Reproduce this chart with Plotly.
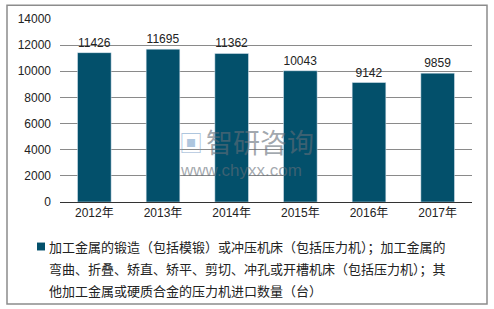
import plotly.graph_objects as go

years = ["2012年", "2013年", "2014年", "2015年", "2016年", "2017年"]
values = [11426, 11695, 11362, 10043, 9142, 9859]
y_ticks = [0, 2000, 4000, 6000, 8000, 10000, 12000, 14000]
legend_lines = ["加工金属的锻造（包括模锻）或冲压机床（包括压力机）；加工金属的",
                "弯曲、折叠、矫直、矫平、剪切、冲孔或开槽机床（包括压力机）；其",
                "他加工金属或硬质合金的压力机进口数量（台）"]

W, H = 494, 309
L, R, T, B = 60, 22, 17, 107
pw, ph = W - L - R, H - T - B

def px(x):
    return (x - L) / pw

def py(y):
    return (H - B - y) / ph

FONT = "Liberation Sans, Arial, Noto Sans CJK SC, sans-serif"
BAR = "#03506b"

fig = go.Figure()
fig.add_trace(go.Bar(
    x=years, y=values, marker_color=BAR, width=0.49,
    text=[str(v) for v in values], textposition="outside",
    textfont=dict(size=12, color="#222", family=FONT),
    cliponaxis=False, showlegend=False,
))

fig.update_layout(
    width=W, height=H,
    margin=dict(l=L, r=R, t=T, b=B),
    paper_bgcolor="white", plot_bgcolor="white",
    font=dict(family=FONT, size=12, color="#222"),
    bargap=0.51,
    xaxis=dict(showgrid=False, showline=True, linecolor="#333", linewidth=1,
               ticks="", tickfont=dict(size=12, color="#222")),
    yaxis=dict(range=[0, 14000], tickvals=y_ticks,
               ticktext=[str(v) for v in y_ticks], showgrid=True,
               gridcolor="#8a8a8a", gridwidth=1, zeroline=False,
               showline=False, ticks="", tickfont=dict(size=12, color="#222"),
               ticklabelstandoff=8),
)

# outer border
fig.add_shape(type="rect", xref="paper", yref="paper",
              x0=px(7), x1=px(487), y0=py(305), y1=py(3),
              line=dict(color="#8c8c8c", width=1.5), fillcolor="rgba(0,0,0,0)")

# legend marker
fig.add_shape(type="rect", xref="paper", yref="paper",
              x0=px(37), x1=px(45), y0=py(251), y1=py(243),
              line=dict(width=0), fillcolor=BAR)
for i, line in enumerate(legend_lines):
    fig.add_annotation(xref="paper", yref="paper", x=px(47), y=py(247 + 22 * i),
                       xanchor="left", yanchor="middle", align="left",
                       text=line, showarrow=False,
                       font=dict(size=13, color="#222",
                                 family="Noto Sans CJK SC, sans-serif"))

# watermark
fig.add_annotation(xref="paper", yref="paper", x=px(177), y=py(143),
                   xanchor="left", yanchor="middle", text="▣", showarrow=False,
                   font=dict(size=24, color="rgba(120,160,200,0.6)"))
fig.add_annotation(xref="paper", yref="paper", x=px(204), y=py(141),
                   xanchor="left", yanchor="middle", text="智研咨询", showarrow=False,
                   font=dict(size=27, color="rgba(100,110,120,0.6)",
                             family="Noto Sans CJK SC, sans-serif"))
fig.add_annotation(xref="paper", yref="paper", x=px(178), y=py(170),
                   xanchor="left", yanchor="middle", text="www.chyxx.com", showarrow=False,
                   font=dict(size=17, color="rgba(100,110,120,0.6)", family=FONT))

fig.write_html("out.html")
